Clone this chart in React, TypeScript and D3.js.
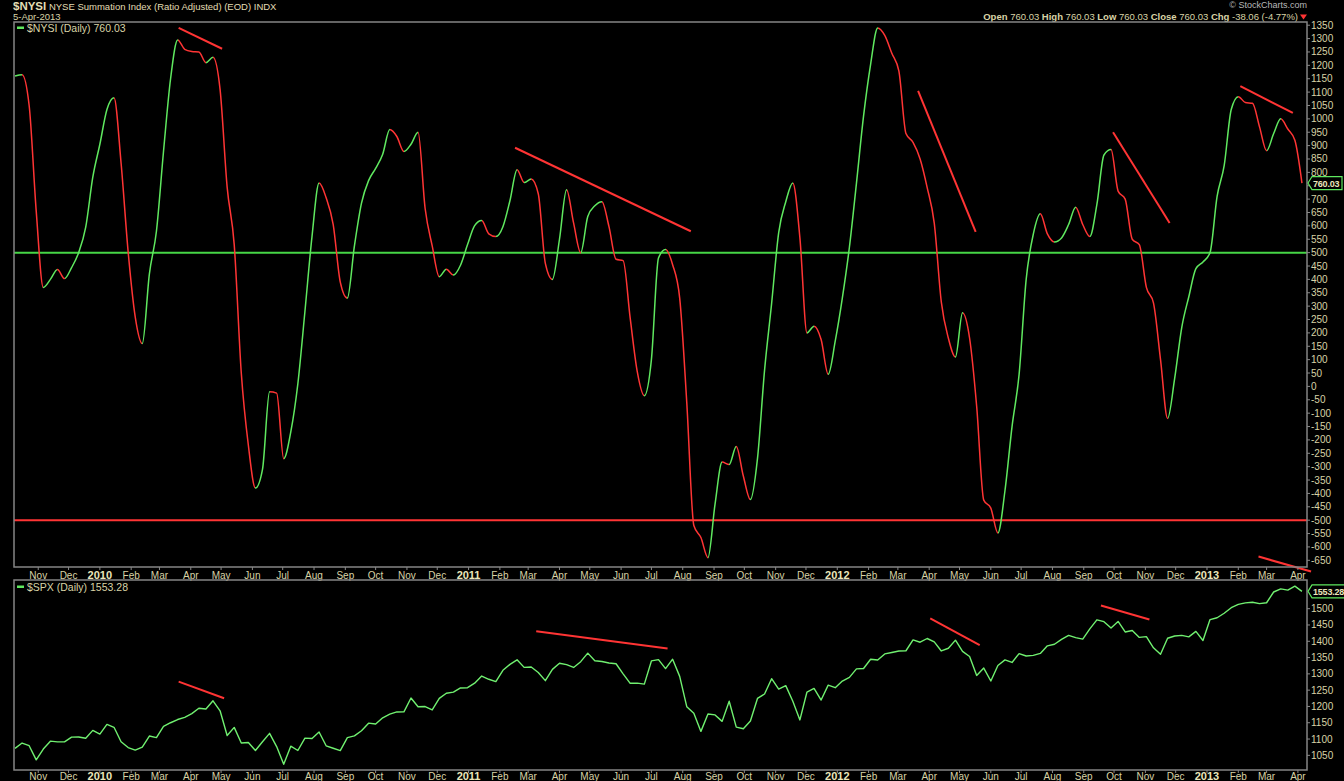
import * as d3 from "d3";

// weekly (Friday) readings, 9-Oct-2009 .. 5-Apr-2013
const weeks = d3.timeFriday.range(new Date(2009, 9, 9), new Date(2013, 3, 6));

const nysiValues = [
  1160, 1165, 1050, 655, 370, 400, 437, 403, 444, 500,
  595, 782, 905, 1035, 1079, 835, 503, 260, 160, 420,
  580, 878, 1150, 1295, 1260, 1252, 1250, 1210, 1230, 1110,
  745, 530, 50, -220, -380, -310, -20, -25, -270, -170,
  10, 280, 560, 760, 705, 605, 390, 330, 525, 685,
  769, 815, 868, 960, 934, 878, 905, 950, 665, 525,
  410, 438, 416, 453, 530, 601, 620, 570, 560, 597,
  695, 810, 762, 775, 720, 460, 400, 550, 735, 610,
  500, 635, 675, 690, 597, 475, 470, 255, 55, -35,
  100, 480, 512, 455, 330, -60, -520, -565, -640, -440,
  -283, -292, -225, -335, -423, -270, 60, 310, 575, 690,
  760, 555, 200, 225, 175, 45, 170, 330, 520, 760,
  1010, 1204, 1340, 1312, 1245, 1178, 945, 912, 850, 743,
  610, 315, 180, 110, 275, 180, -75, -425, -455, -548,
  -390, -150, 45, 400, 568, 645, 570, 540, 555, 605,
  670, 605, 560, 680, 865, 885, 730, 700, 550, 530,
  370, 312, 100, -120, 30, 220, 335, 440, 465, 500,
  710, 825, 1035, 1083, 1061, 1058, 970, 881, 945, 1000,
  962, 920, 760.03,
];

const spxValues = [
  // 2009
  1071.5, 1087.7, 1079.6, 1036.2, 1069.3, 1093.5, 1091.4, 1091.5, 1106.0, 1106.4, 1102.5, 1126.5,
  // 2010
  1115.1, 1145.0, 1136.0, 1091.8, 1073.9, 1066.2, 1075.5, 1109.2, 1104.5, 1138.7, 1150.0, 1159.9,
  1166.6, 1178.1, 1194.4, 1192.1, 1217.3, 1186.7, 1110.9, 1135.7, 1087.7, 1089.4, 1064.9, 1091.6,
  1117.5, 1076.8, 1022.6, 1078.0, 1064.9, 1102.7, 1101.6, 1121.6, 1079.3, 1071.7, 1064.6, 1104.5,
  1109.6, 1125.6, 1148.7, 1146.2, 1165.2, 1176.2, 1183.1, 1183.3, 1225.9, 1199.2, 1199.7, 1189.4,
  1224.7, 1240.4, 1243.9, 1256.8, 1257.6,
  // 2011
  1271.5, 1293.2, 1283.4, 1276.3, 1310.9, 1329.2, 1343.0, 1319.9, 1321.2, 1304.3, 1279.2, 1313.8,
  1332.4, 1328.2, 1319.7, 1337.4, 1363.6, 1340.2, 1337.8, 1333.3, 1331.1, 1300.2, 1271.0, 1271.5,
  1268.5, 1339.7, 1343.8, 1316.1, 1345.0, 1292.3, 1199.4, 1178.8, 1123.5, 1176.8, 1174.0, 1154.2,
  1216.0, 1136.4, 1131.4, 1155.5, 1224.6, 1238.3, 1285.1, 1253.2, 1263.9, 1215.7, 1158.7, 1244.3,
  1255.2, 1219.7, 1265.3, 1257.6,
  // 2012
  1277.8, 1289.1, 1315.4, 1316.3, 1344.9, 1342.6, 1361.2, 1365.7, 1370.0, 1370.9, 1404.2, 1397.1,
  1408.5, 1398.1, 1370.3, 1378.5, 1403.4, 1369.1, 1353.4, 1295.2, 1317.8, 1278.0, 1325.7, 1342.8,
  1335.0, 1362.2, 1354.7, 1356.8, 1362.7, 1386.0, 1391.0, 1405.9, 1418.2, 1411.1, 1406.6, 1437.9,
  1465.8, 1460.2, 1440.7, 1460.9, 1428.6, 1433.2, 1411.9, 1414.2, 1379.9, 1359.9, 1409.2, 1416.2,
  1418.1, 1413.6, 1430.2, 1402.4,
  // 2013
  1466.5, 1472.1, 1486.0, 1503.0, 1513.2, 1517.9, 1519.8, 1515.6, 1518.2, 1551.2, 1560.7, 1556.9,
  1569.2, 1553.28,
];

// hand-drawn divergence lines: [date, value] pairs
const nysiTrendLines: [string, number, string, number][] = [
  ["2010-03-20", 1340, "2010-05-02", 1262],
  ["2011-02-16", 892, "2011-08-09", 580],
  ["2012-03-21", 1105, "2012-05-17", 578],
  ["2012-09-30", 950, "2012-11-25", 611],
  ["2013-02-03", 1122, "2013-03-27", 1022],
  ["2013-02-21", -636, "2013-04-14", -692],
];
const spxTrendLines: [string, number, string, number][] = [
  ["2010-03-20", 1276, "2010-05-04", 1225],
  ["2011-03-09", 1431, "2011-07-17", 1378],
  ["2012-04-02", 1470, "2012-05-21", 1388],
  ["2012-09-18", 1510, "2012-11-05", 1467],
];

const nysiTicks = d3.range(-650, 1351, 50);
const spxTicks = d3.range(1050, 1501, 50);
const nysiLevels = { upper: 500, lower: -500 };

const W = 1344,
  H = 781;
const L = 14,
  R = 1307;
const top1 = 22,
  bot1 = 567,
  top2 = 580,
  bot2 = 770;

const TXT = "#d8d3a6";
const GREEN = "#5fe85f";
const RED = "#ff3434";
const FONT = "'Liberation Sans', Arial, sans-serif";

interface Pt {
  date: Date;
  value: number;
}

export default function App() {
  const parse = d3.timeParse("%Y-%m-%d");
  const x = d3
    .scaleTime()
    .domain([new Date(2009, 9, 8), new Date(2013, 3, 10)])
    .range([L, R]);
  const y1 = d3.scaleLinear().domain([-675, 1362]).range([bot1, top1]);
  const y2 = d3.scaleLinear().domain([1005, 1588]).range([bot2, top2]);

  const nysi: Pt[] = weeks
    .slice(0, nysiValues.length)
    .map((d, i) => ({ date: d, value: nysiValues[i] }));
  const spx: Pt[] = weeks
    .slice(0, spxValues.length)
    .map((d, i) => ({ date: d, value: spxValues[i] }));

  const nysiPath = d3
    .line<Pt>()
    .x((d) => x(d.date))
    .y((d) => y1(d.value))
    .curve(d3.curveMonotoneX)(nysi)!;
  const spxPath = d3
    .line<Pt>()
    .x((d) => x(d.date))
    .y((d) => y2(d.value))(spx)!;

  // rising = green, falling = red
  const x0 = x(nysi[0].date),
    xN = x(nysi[nysi.length - 1].date);
  const stops: { o: number; c: string }[] = [];
  for (let i = 0; i < nysi.length - 1; i++) {
    const c = nysi[i + 1].value >= nysi[i].value ? GREEN : RED;
    stops.push({ o: (x(nysi[i].date) - x0) / (xN - x0), c });
    stops.push({ o: (x(nysi[i + 1].date) - x0) / (xN - x0), c });
  }

  const months = d3.timeMonth.range(new Date(2009, 10, 1), new Date(2013, 3, 2));
  const monthLabel = (d: Date) =>
    d.getMonth() === 0 ? d3.timeFormat("%Y")(d) : d3.timeFormat("%b")(d);

  const monthAxis = (yBorder: number, yText: number) =>
    months.map((m, i) => (
      <g key={i}>
        <line x1={x(m)} x2={x(m)} y1={yBorder} y2={yBorder + 3} stroke="#888" />
        <text
          x={x(m)}
          y={yText}
          textAnchor="middle"
          fill={m.getMonth() === 0 ? "#ebe6bb" : TXT}
          fontWeight={m.getMonth() === 0 ? "bold" : "normal"}
          fontSize={m.getMonth() === 0 ? 11 : 10}
        >
          {monthLabel(m)}
        </text>
      </g>
    ));

  const lastN = nysi[nysi.length - 1].value;
  const lastS = spx[spx.length - 1].value;

  const tag = (yy: number, label: string, w: number) => (
    <g>
      <path
        d={`M${R + 1},${yy} L${R + 5},${yy - 6.5} L${R + 5 + w},${yy - 6.5} L${R + 5 + w},${yy + 6.5} L${R + 5},${yy + 6.5} Z`}
        fill="#000"
        stroke={GREEN}
        strokeWidth={1.2}
      />
      <text x={R + 6} y={yy + 3.5} fontSize={9} fontWeight="bold" fill="#ebe6bb" letterSpacing={-0.2}>
        {label}
      </text>
    </g>
  );

  return (
    <svg
      width={W}
      height={H}
      style={{ position: "absolute", left: 0, top: 0, display: "block", background: "#000" }}
      fontFamily={FONT}
    >
      <rect width={W} height={H} fill="#000" />
      <defs>
        <linearGradient id="nysiColor" gradientUnits="userSpaceOnUse" x1={x0} x2={xN} y1={0} y2={0}>
          {stops.map((s, i) => (
            <stop key={i} offset={s.o} stopColor={s.c} />
          ))}
        </linearGradient>
      </defs>

      {/* header */}
      <text x={13} y={10} fill="#e2ddb4">
        <tspan fontSize={11.5} fontWeight="bold">$NYSI</tspan>
        <tspan fontSize={9.5}> NYSE Summation Index (Ratio Adjusted) (EOD) INDX</tspan>
      </text>
      <text x={13} y={19.5} fontSize={9.5} fill={TXT}>5-Apr-2013</text>
      <text x={1307} y={8} fontSize={9} fill="#b8b8b8" textAnchor="end">© StockCharts.com</text>
      <text x={1298} y={19.5} fontSize={9.5} fill={TXT} textAnchor="end">
        <tspan fontWeight="bold">Open</tspan> 760.03 <tspan fontWeight="bold">High</tspan> 760.03{" "}
        <tspan fontWeight="bold">Low</tspan> 760.03 <tspan fontWeight="bold">Close</tspan> 760.03{" "}
        <tspan fontWeight="bold">Chg</tspan> -38.06 (-4.77%)
      </text>
      <path d="M1300,14.5 L1307,14.5 L1303.5,19.5 Z" fill={RED} />

      {/* top panel */}
      <line x1={L} x2={R} y1={y1(nysiLevels.upper)} y2={y1(nysiLevels.upper)} stroke="#46d646" strokeWidth={2} />
      <line x1={L} x2={R} y1={y1(nysiLevels.lower)} y2={y1(nysiLevels.lower)} stroke={RED} strokeWidth={2} />
      <path d={nysiPath} fill="none" stroke="url(#nysiColor)" strokeWidth={1.5} />
      {nysiTrendLines.map((t, i) => (
        <line
          key={i}
          x1={x(parse(t[0])!)}
          y1={y1(t[1])}
          x2={x(parse(t[2])!)}
          y2={y1(t[3])}
          stroke={RED}
          strokeWidth={2}
        />
      ))}
      <rect x={L} y={top1} width={R - L} height={bot1 - top1} fill="none" stroke="#858585" strokeWidth={1.5} />
      <rect x={17} y={26.5} width={7} height={2.5} fill={GREEN} />
      <text x={27} y={32} fontSize={10.5} fill={TXT}>$NYSI (Daily) 760.03</text>
      {nysiTicks.map((t) => (
        <g key={t}>
          <line x1={R} x2={R + 3} y1={y1(t)} y2={y1(t)} stroke="#888" />
          <text x={R + 4} y={y1(t) + 3.5} fontSize={10} fill={TXT}>
            {t}
          </text>
        </g>
      ))}
      {tag(y1(lastN), d3.format(".2f")(lastN), 30)}
      {monthAxis(bot1, 579)}

      {/* bottom panel */}
      <path d={spxPath} fill="none" stroke="#70f070" strokeWidth={1.4} strokeLinejoin="round" />
      {spxTrendLines.map((t, i) => (
        <line
          key={i}
          x1={x(parse(t[0])!)}
          y1={y2(t[1])}
          x2={x(parse(t[2])!)}
          y2={y2(t[3])}
          stroke={RED}
          strokeWidth={2}
        />
      ))}
      <rect x={L} y={top2} width={R - L} height={bot2 - top2} fill="none" stroke="#858585" strokeWidth={1.5} />
      <rect x={17} y={585.5} width={7} height={2.5} fill={GREEN} />
      <text x={27} y={591} fontSize={10.5} fill={TXT}>$SPX (Daily) 1553.28</text>
      {spxTicks.map((t) => (
        <g key={t}>
          <line x1={R} x2={R + 3} y1={y2(t)} y2={y2(t)} stroke="#888" />
          <text x={R + 4} y={y2(t) + 3.5} fontSize={10} fill={TXT}>
            {t}
          </text>
        </g>
      ))}
      {tag(y2(lastS), d3.format(".2f")(lastS), 34)}
      {monthAxis(bot2, 780)}
    </svg>
  );
}
